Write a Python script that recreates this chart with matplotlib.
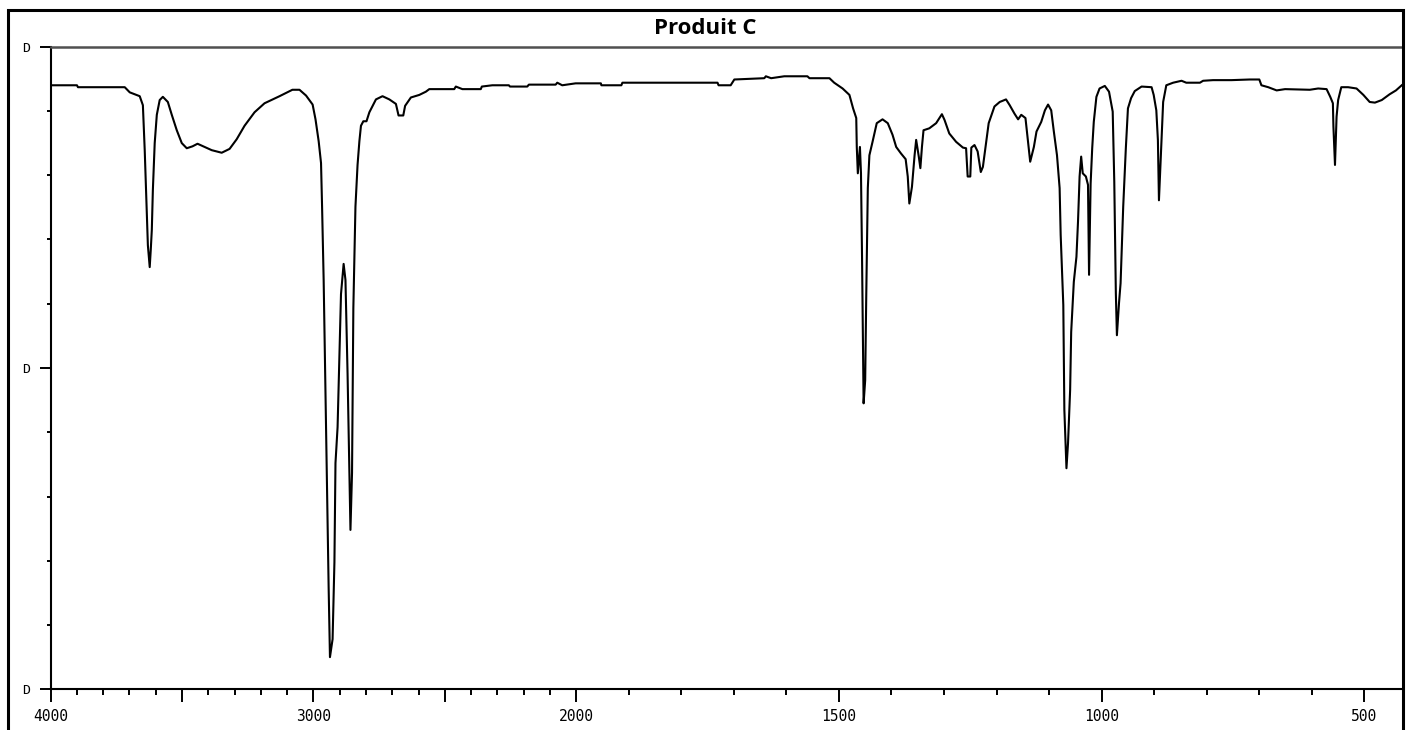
import matplotlib
matplotlib.use("Agg")
import matplotlib.pyplot as plt
import numpy as np
from matplotlib.patches import Rectangle
from matplotlib.ticker import FixedLocator

# IR spectrum, "Produit C" (cm-1, %T)
wavenumber = [4000, 3900, 3896, 3718, 3699, 3661, 3649, 3642, 3630, 3623, 3619, 3615,
              3611, 3604, 3596, 3585, 3573, 3554, 3539, 3520, 3501, 3482, 3460, 3441,
              3414, 3387, 3349, 3319, 3292, 3262, 3224, 3186, 3129, 3080, 3053, 3028,
              3003, 2992, 2980, 2971, 2967, 2961, 2952, 2942, 2937, 2927, 2920, 2916,
              2908, 2901, 2895, 2885, 2878, 2870, 2863, 2859, 2853, 2848, 2840, 2832,
              2825, 2819, 2810, 2798, 2787, 2762, 2737, 2711, 2686, 2676, 2658, 2651,
              2629, 2597, 2572, 2559, 2464, 2458, 2433, 2363, 2359, 2319, 2256, 2252,
              2186, 2180, 2078, 2072, 2053, 2002, 1953, 1952, 1914, 1912, 1731, 1729,
              1706, 1699, 1642, 1639, 1629, 1604, 1560, 1556, 1518, 1509, 1493, 1480,
              1473, 1467, 1466, 1464, 1460, 1458, 1456, 1453, 1450, 1448, 1445, 1442,
              1436, 1428, 1417, 1407, 1398, 1391, 1382, 1373, 1369, 1366, 1361, 1356,
              1353, 1348, 1345, 1342, 1339, 1328, 1315, 1304, 1299, 1290, 1277, 1264,
              1258, 1255, 1250, 1248, 1242, 1236, 1230, 1226, 1220, 1215, 1204, 1194,
              1182, 1175, 1166, 1159, 1153, 1145, 1140, 1136, 1129, 1124, 1115, 1108,
              1102, 1096, 1091, 1085, 1080, 1078, 1073, 1071, 1067, 1064, 1060, 1058,
              1053, 1048, 1045, 1042, 1039, 1036, 1030, 1026, 1024, 1021, 1018, 1015,
              1010, 1004, 994, 986, 979, 976, 973, 971, 967, 964, 959, 954,
              950, 944, 937, 924, 905, 901, 896, 893, 891, 886, 883, 877,
              864, 848, 839, 813, 807, 788, 753, 718, 700, 696, 683, 667,
              651, 604, 588, 572, 565, 560, 559, 556, 553, 550, 544, 531,
              515, 502, 490, 480, 467, 452, 440, 429]
transmittance = [94.0, 94.0, 93.7, 93.7, 92.9, 92.3, 90.9, 83.9, 69.1, 65.7, 68.4, 71.5,
                 77.7, 85.0, 89.4, 91.7, 92.2, 91.4, 89.4, 87.0, 85.0, 84.2, 84.5, 84.9,
                 84.4, 83.9, 83.5, 84.1, 85.6, 87.7, 89.8, 91.2, 92.3, 93.3, 93.3, 92.4,
                 91.0, 88.7, 85.3, 81.9, 75.1, 63.7, 40.8, 15.8, 5.0, 7.8, 19.8, 35.2,
                 40.8, 51.6, 61.5, 66.2, 63.7, 49.1, 33.7, 24.8, 33.7, 59.3, 75.1, 81.6,
                 85.3, 87.7, 88.4, 88.4, 89.8, 91.8, 92.3, 91.8, 91.1, 89.3, 89.3, 90.8,
                 92.1, 92.5, 93.0, 93.4, 93.4, 93.8, 93.4, 93.4, 93.8, 94.0, 94.0, 93.8,
                 93.8, 94.1, 94.1, 94.4, 94.0, 94.3, 94.3, 94.0, 94.0, 94.4, 94.4, 94.0,
                 94.0, 94.9, 95.1, 95.4, 95.1, 95.4, 95.4, 95.1, 95.1, 94.4, 93.5, 92.5,
                 90.4, 88.9, 84.4, 80.3, 84.4, 80.3, 67.3, 44.5, 48.1, 61.1, 78.0, 83.1,
                 85.2, 88.1, 88.7, 88.1, 86.3, 84.4, 83.4, 82.5, 79.8, 75.6, 78.2, 83.1,
                 85.5, 82.9, 81.1, 84.4, 87.0, 87.3, 88.1, 89.5, 88.6, 86.5, 85.2, 84.3,
                 84.2, 79.8, 79.8, 84.3, 84.7, 83.7, 80.5, 81.3, 85.0, 88.1, 90.7, 91.4,
                 91.8, 90.9, 89.6, 88.7, 89.4, 88.9, 85.2, 82.1, 84.4, 86.8, 88.3, 90.1,
                 91.0, 90.1, 86.8, 83.1, 78.0, 70.7, 59.8, 43.5, 34.4, 38.3, 46.6, 55.6,
                 63.4, 67.3, 72.8, 79.8, 82.9, 80.3, 79.8, 78.5, 64.5, 78.7, 84.2, 88.3,
                 92.2, 93.5, 93.9, 93.0, 89.9, 79.0, 61.6, 55.1, 60.1, 63.2, 75.1, 84.2,
                 90.4, 92.0, 93.1, 93.8, 93.7, 92.5, 90.1, 85.5, 76.1, 85.5, 91.4, 94.0,
                 94.4, 94.7, 94.4, 94.4, 94.7, 94.8, 94.8, 94.9, 94.9, 94.0, 93.7, 93.2,
                 93.4, 93.3, 93.5, 93.4, 92.2, 91.2, 87.6, 81.6, 89.1, 91.7, 93.7, 93.7,
                 93.5, 92.5, 91.4, 91.3, 91.7, 92.6, 93.2, 94.0]

major_ticks = [4000, 3500, 3000, 2500, 2000, 1500, 1000, 500]
major_labels = ["4000", "", "3000", "", "2000", "1500", "1000", "500"]
y_ticks = [0, 50, 100]
y_labels = ["D", "D", "D"]


# scale is doubled below 2000 cm-1, like the spectrometer printout
def fwd(x):
    x = np.asarray(x, dtype=float)
    return np.where(x >= 2000, x, 2 * x - 2000)


def inv(u):
    u = np.asarray(u, dtype=float)
    return np.where(u >= 2000, u, (u + 2000) / 2)


fig = plt.figure(figsize=(14.11, 7.30), dpi=100)
ax = fig.add_axes([0.0359, 0.0558, 0.9579, 0.8802])

ax.plot(wavenumber, transmittance, color="black", lw=1.5)

ax.set_xscale("function", functions=(fwd, inv))
ax.set_xlim(4000, 428)
ax.set_ylim(0, 100)

ax.xaxis.set_major_locator(FixedLocator(major_ticks))
ax.set_xticklabels(major_labels)
ax.xaxis.set_minor_locator(FixedLocator([w for w in range(500, 4000, 100) if w not in major_ticks]))
ax.set_yticks(y_ticks)
ax.set_yticklabels(y_labels)
ax.yaxis.set_minor_locator(FixedLocator(range(10, 100, 10)))

ax.tick_params(axis="x", which="major", direction="out", length=9.5, width=1.4, pad=5,
               labelsize=10.5)
ax.tick_params(axis="x", which="minor", direction="out", length=4, width=1.4)
ax.tick_params(axis="y", which="major", direction="out", length=8, width=1.4, pad=7,
               labelsize=9.5)
ax.tick_params(axis="y", which="minor", direction="out", length=3, width=1.4)
for lab in ax.get_xticklabels() + ax.get_yticklabels():
    lab.set_family("DejaVu Sans Mono")

ax.spines["right"].set_visible(False)
ax.spines["left"].set_linewidth(1.5)
ax.spines["bottom"].set_linewidth(1.5)
ax.spines["top"].set_color("#505050")
ax.spines["top"].set_linewidth(1.8)

# outer frame of the scan
fig.patches.append(Rectangle((7.5 / 1411, -0.1), (1403 - 7.5) / 1411, 0.1 + (730 - 10) / 730,
                             transform=fig.transFigure, fill=False, edgecolor="black",
                             lw=2.2, clip_on=False))

fig.text(705 / 1411, 1 - 28 / 730, "Produit C", ha="center", va="center",
         fontsize=16, fontweight="bold", family=["Open Sans", "DejaVu Sans"])

fig.savefig("out.png", dpi=100)
